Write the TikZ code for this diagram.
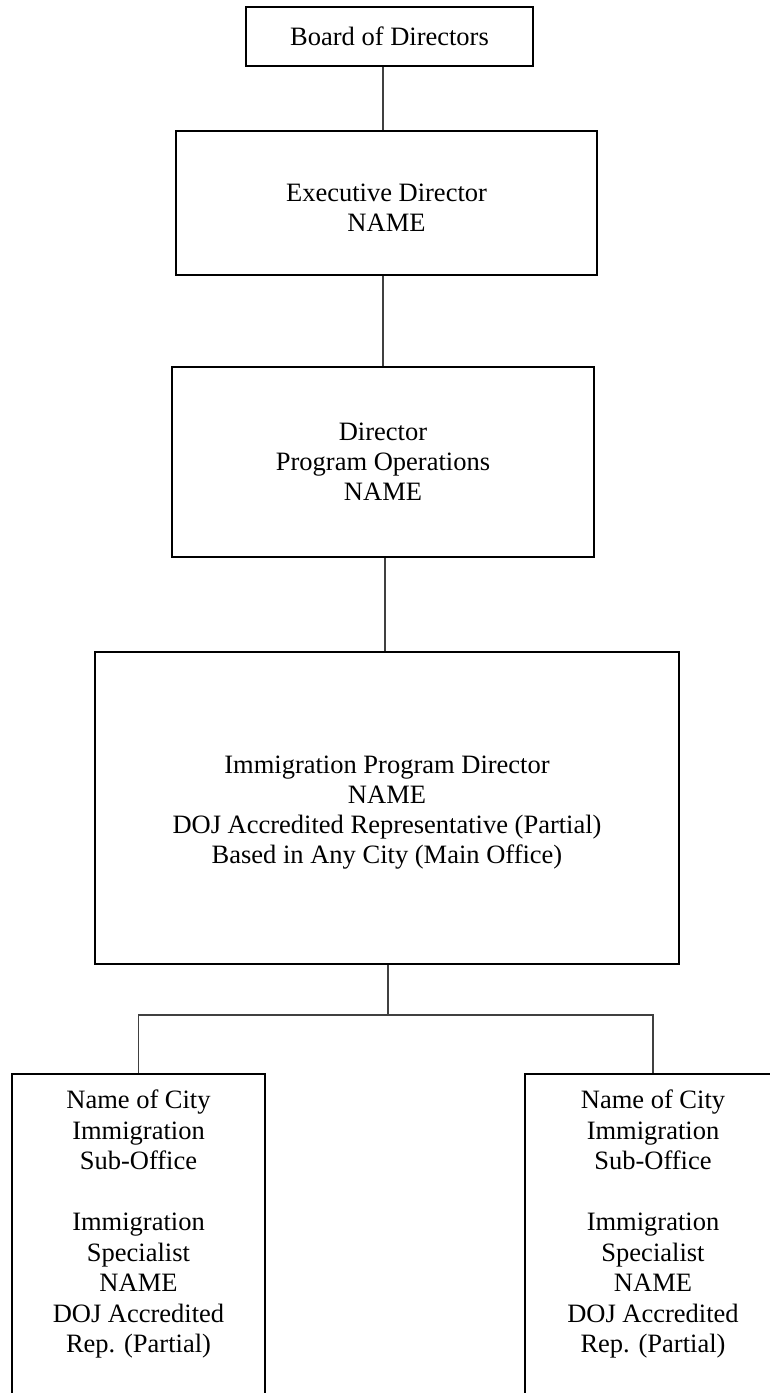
\documentclass[tikz,border=0pt]{standalone}
\usepackage{fontspec}
\setmainfont{Liberation Serif}
\begin{document}
\begin{tikzpicture}[x=1pt,y=-1pt,
  box/.style={draw=black, line width=2.3pt, inner sep=0pt, align=center,
              font=\fontsize{26.5}{30}\selectfont},
  txt/.style={inner sep=0pt, align=center, font=\fontsize{26.5}{30}\selectfont},
  conn/.style={draw=black!75, line width=1.5pt}]
\useasboundingbox (0,0) rectangle (770,1393);
\clip (0,0) rectangle (770,1393);
\fill[white] (0,0) rectangle (770,1393);

\node[box, minimum width=287, minimum height=59] (board) at (389.5,36.5) {Board of Directors};

\node[box, minimum width=421, minimum height=144] (exec) at (386.5,203) {};
\node[txt] (exect) at (386.5,207.5) {Executive Director\\NAME};

\node[box, minimum width=422, minimum height=190] (dir) at (383,462) {Director\\Program Operations\\NAME};

\node[box, minimum width=584, minimum height=312] (imm) at (387,808) {};
\node[txt] (immt) at (387,813)
  {Immigration Program Director\\NAME\\DOJ Accredited Representative (Partial)\\Based in Any City (Main Office)};

\node[box, minimum width=253, minimum height=400, anchor=north] (L) at (138.5,1073) {};
\node[txt, font=\fontsize{26.5}{30.5}\selectfont, anchor=north] (Lt) at ([yshift=-17pt]L.north)
  {Name of City\\Immigration\\Sub-Office\\[30.5pt]Immigration\\Specialist\\NAME\\DOJ Accredited\\Rep. (Partial)};
\node[box, minimum width=256, minimum height=400, anchor=north] (R) at (653,1073) {};
\node[txt, font=\fontsize{26.5}{30.5}\selectfont, anchor=north] (Rt) at ([yshift=-17pt]R.north)
  {Name of City\\Immigration\\Sub-Office\\[30.5pt]Immigration\\Specialist\\NAME\\DOJ Accredited\\Rep. (Partial)};

\draw[conn] ([xshift=-6.5pt]board.south) -- ([xshift=-6.5pt]board.south |- exec.north);
\draw[conn] ([xshift=-3.5pt]exec.south) -- ([xshift=-3.5pt]exec.south |- dir.north);
\draw[conn] ([xshift=2pt]dir.south) -- ([xshift=2pt]dir.south |- imm.north);
\coordinate (bus) at ([xshift=1pt,yshift=-50pt]imm.south);
\draw[conn] ([xshift=1pt]imm.south) -- (bus);
\draw[conn] (L.north) |- (bus) -| (R.north);
\end{tikzpicture}
\end{document}
